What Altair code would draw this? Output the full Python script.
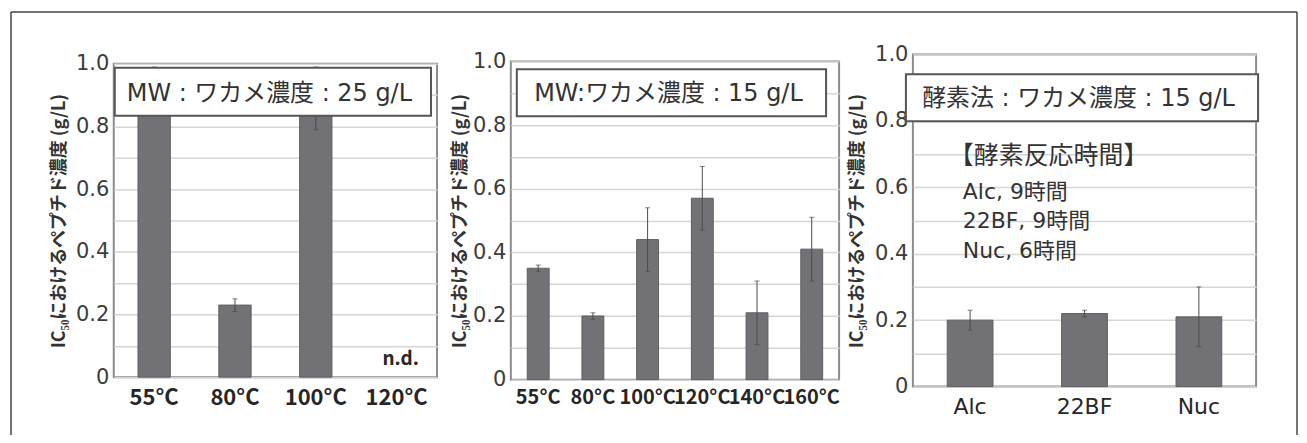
import altair as alt
import pandas as pd

CJK = "Noto Sans CJK JP"
MIX = "DejaVu Sans, Noto Sans CJK JP"

# ---- data ----
cats1 = ["55°C", "80°C", "100°C", "120°C"]
vals1 = [0.95, 0.23, 0.89, 0.0]
errs1 = [0.04, 0.02, 0.10, 0.0]
notes1 = ["", "", "", "n.d."]

cats2 = ["55°C", "80°C", "100°C", "120°C", "140°C", "160°C"]
vals2 = [0.35, 0.20, 0.44, 0.57, 0.21, 0.41]
errs2 = [0.01, 0.01, 0.10, 0.10, 0.10, 0.10]
notes2 = ["", "", "", "", "", ""]

cats3 = ["Alc", "22BF", "Nuc"]
vals3 = [0.20, 0.22, 0.21]
errs3 = [0.03, 0.01, 0.09]
notes3 = ["", "", ""]

box_titles = ["MW : ワカメ濃度 : 25 g/L", "MW:ワカメ濃度 : 15 g/L", "酵素法 : ワカメ濃度 : 15 g/L"]
note_head = ["【酵素反応時間】"]
note_lines = ["Alc, 9時間", "22BF, 9時間", "Nuc, 6時間"]
y_title = "IC₅₀におけるペプチド濃度 (g/L)"
y_ticks = [0, 0.1, 0.2, 0.3, 0.4, 0.5, 0.6, 0.7, 0.8, 0.9, 1.0]

BAR = "#727276"
ERR = "#4a4a4a"


def panel(cats, vals, errs, notes, w, h, lab_font, lab_size, lab_weight, lab_pad, title_pad,
          box, title, title_xy, extra=None):
    df = pd.DataFrame({"cat": cats, "v": vals, "e": errs, "note": notes})
    df["lo"] = df["v"] - df["e"]
    df["hi"] = df["v"] + df["e"]

    xaxis = alt.Axis(title=None, labelAngle=0, labelFont=lab_font, labelFontSize=lab_size,
                     labelFontWeight=lab_weight, labelColor="#262626", labelPadding=lab_pad,
                     ticks=False, tickSize=0, domain=False, grid=False, labelOverlap=False)
    xscale = alt.Scale(paddingInner=0.6, paddingOuter=0.3)
    yaxis = alt.Axis(values=y_ticks,
                     labelExpr="round(datum.value*10) % 2 == 0 ? (datum.value == 0 ? '0' : format(datum.value, '.1f')) : ''",
                     grid=True, gridColor="#d6d6d6", gridWidth=1.5, ticks=False, tickSize=0,
                     domain=False, labelFont="DejaVu Sans", labelFontSize=21, labelColor="#3c3c3c",
                     labelPadding=5, title=y_title, titleFont=CJK, titleFontSize=18,
                     titleFontWeight="bold", titleColor="#333333", titlePadding=title_pad)
    yscale = alt.Scale(domain=[0, 1], nice=False)

    def X():
        return alt.X("cat:N", sort=cats, scale=xscale, axis=xaxis)

    def Y(f):
        return alt.Y(f, scale=yscale, axis=yaxis)

    base = alt.Chart(df)
    bars = base.transform_filter("datum.v > 0").mark_bar(
        color=BAR, stroke="#5e5e62", strokeWidth=1).encode(x=X(), y=Y("v:Q"))
    eb = base.transform_filter("datum.e > 0")
    rule = eb.mark_rule(color=ERR, strokeWidth=1).encode(x=X(), y=Y("lo:Q"), y2="hi:Q")
    cap_lo = eb.mark_tick(color=ERR, size=5, thickness=1).encode(x=X(), y=Y("lo:Q"))
    cap_hi = eb.mark_tick(color=ERR, size=5, thickness=1).encode(x=X(), y=Y("hi:Q"))
    nd = base.transform_filter("datum.note != ''").mark_text(
        font=CJK, fontSize=19, fontWeight="bold", color="#262626", baseline="bottom", dy=-8, dx=4
    ).encode(x=X(), y=Y("v:Q"), text="note:N")

    one = pd.DataFrame({"t": [title]})
    rect = alt.Chart(one).mark_rect(fill="white", stroke="#555555", strokeWidth=2).encode(
        x=alt.value(box[0]), x2=alt.value(box[1]), y=alt.value(box[2]), y2=alt.value(box[3]))
    txt = alt.Chart(one).mark_text(font=MIX, fontSize=24, color="#333333", align="center",
                                   baseline="middle").encode(
        x=alt.value(title_xy[0]), y=alt.value(title_xy[1]), text="t:N")

    layers = [bars, rule, cap_lo, cap_hi, nd, rect, txt]
    if extra:
        layers += extra
    return alt.layer(*layers).properties(width=w, height=h)


# outer frame (drawn in panel 1's coordinates)
frame_df = pd.DataFrame({"a": [0]})
FC = "#444444"
frame = [
    alt.Chart(frame_df).mark_rule(color=FC, strokeWidth=1.5).encode(
        x=alt.value(-103), y=alt.value(-52), y2=alt.value(372)),
    alt.Chart(frame_df).mark_rule(color=FC, strokeWidth=1.5).encode(
        x=alt.value(-103), x2=alt.value(1186), y=alt.value(-52)),
    alt.Chart(frame_df).mark_rule(color=FC, strokeWidth=1.5).encode(
        x=alt.value(1186), y=alt.value(-52), y2=alt.value(372)),
]

# annotation in panel 3
head_df = pd.DataFrame({"t": note_head})
lines_df = pd.DataFrame({"t": note_lines, "i": [0, 1, 2]})
line_y = [138, 167, 197]
ann = [
    alt.Chart(head_df).mark_text(font=CJK, fontSize=25, color="#333333", align="left",
                                 baseline="middle").encode(
        x=alt.value(36), y=alt.value(102), text="t:N"),
]
for i, yy in enumerate(line_y):
    ann.append(
        alt.Chart(lines_df).transform_filter(f"datum.i == {i}").mark_text(
            font=MIX, fontSize=22, color="#333333", align="left", baseline="middle").encode(
            x=alt.value(50), y=alt.value(yy), text="t:N")
    )

p1 = panel(cats1, vals1, errs1, notes1, 324, 314, CJK, 22, "bold", 10, 7,
           (1, 318, 4, 52), box_titles[0], (156, 30), extra=frame)
p2 = panel(cats2, vals2, errs2, notes2, 329, 319, CJK, 20, "bold", 8, 3,
           (6, 316, 8, 55), box_titles[1], (158, 32.5))
p3 = panel(cats3, vals3, errs3, notes3, 344, 333, "DejaVu Sans", 22, "normal", 10, 8,
           (-7, 346, 20, 67), box_titles[2], (166, 44.5), extra=ann)

chart = alt.hconcat(p1, p2, p3, spacing=74, center=True, bounds="flush").properties(
    padding={"left": 1, "top": 1, "right": 0, "bottom": 0}
).configure(
    font=CJK, background="white"
).configure_view(
    stroke="#8c8c8c", strokeWidth=2
).configure_axisY(
    labelFont="DejaVu Sans", labelFontSize=21, labelColor="#3c3c3c", labelPadding=5,
    gridColor="#d6d6d6", gridWidth=1.5, ticks=False, tickSize=0, domain=False,
    titleFont=CJK, titleFontSize=18, titleFontWeight="bold", titleColor="#333333"
)

chart.save("out.html", embed_options={"renderer": "svg", "actions": False})
